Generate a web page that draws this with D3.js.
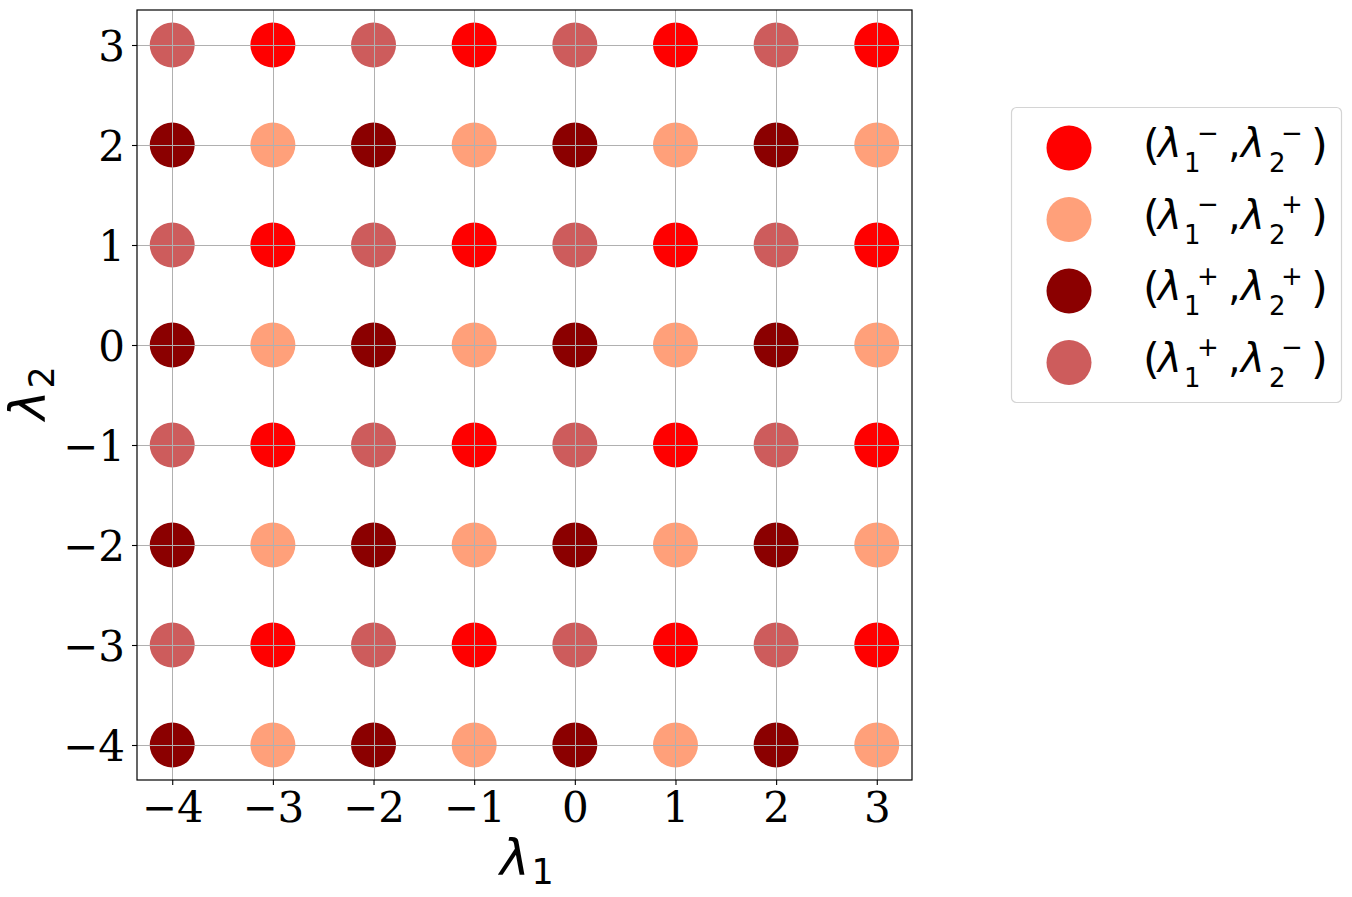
<!DOCTYPE html>
<html>
<head>
<meta charset="utf-8">
<script src="https://cdn.jsdelivr.net/npm/d3@7"></script>
<style>
  body { margin: 0; background: #fff; }
  svg { display: block; }
</style>
</head>
<body>
<script>
// lattice values on each axis
const lambda1Values = [-4, -3, -2, -1, 0, 1, 2, 3];
const lambda2Values = [-4, -3, -2, -1, 0, 1, 2, 3];
// sign class, per column / per row
const lambda1Sign = ['+', '−', '+', '−', '+', '−', '+', '−'];
const lambda2Sign = ['+', '−', '+', '−', '+', '−', '+', '−'];

const xTicks = [-4, -3, -2, -1, 0, 1, 2, 3];
const yTicks = [-4, -3, -2, -1, 0, 1, 2, 3];

// legend entries in order
const groups = [
  { s1: '−', s2: '−', color: '#ff0000' },
  { s1: '−', s2: '+', color: '#ffa07a' },
  { s1: '+', s2: '+', color: '#8b0000' },
  { s1: '+', s2: '−', color: '#cd5c5c' }
];

const W = 1352, H = 897;
const plot = { left: 137, right: 912, top: 10, bottom: 780 };

const svg = d3.select('body').append('svg')
  .attr('width', W)
  .attr('height', H);

const x = d3.scaleLinear().domain([-4.35, 3.35]).range([plot.left, plot.right]);
const y = d3.scaleLinear().domain([-4.35, 3.35]).range([plot.bottom, plot.top]);

// build points from the lattice
let points = [];
lambda1Values.forEach((a, i) => {
  lambda2Values.forEach((b, j) => {
    let g = groups.find(g => g.s1 == lambda1Sign[i] && g.s2 == lambda2Sign[j]);
    points.push({ l1: a, l2: b, color: g.color });
  });
});

svg.append('g').selectAll('circle')
  .data(points).enter()
  .append('circle')
  .attr('cx', d => x(d.l1))
  .attr('cy', d => y(d.l2))
  .attr('r', 22.5)
  .style('fill', d => d.color);

// grid on top of the markers (like the reference)
const grid = svg.append('g').attr('stroke', '#b0b0b0').attr('stroke-width', 1);
grid.selectAll('.vx').data(xTicks).enter().append('line')
  .attr('x1', d => Math.round(x(d)) + 0.5).attr('x2', d => Math.round(x(d)) + 0.5)
  .attr('y1', plot.top).attr('y2', plot.bottom);
grid.selectAll('.hy').data(yTicks).enter().append('line')
  .attr('y1', d => Math.round(y(d)) + 0.5).attr('y2', d => Math.round(y(d)) + 0.5)
  .attr('x1', plot.left).attr('x2', plot.right);

// axes
const tickFont = 'DejaVu Serif';
const xAxis = svg.append('g')
  .attr('transform', `translate(0,${plot.bottom})`)
  .call(d3.axisBottom(x).tickValues(xTicks).tickSize(5).tickPadding(7));
const yAxis = svg.append('g')
  .attr('transform', `translate(${plot.left},0)`)
  .call(d3.axisLeft(y).tickValues(yTicks).tickSize(5).tickPadding(7));

[xAxis, yAxis].forEach(a => {
  a.select('.domain').remove();
  a.selectAll('line').attr('stroke', '#000').attr('stroke-width', 1.1);
  a.selectAll('text')
    .style('font-family', tickFont)
    .style('font-size', '42px')
    .attr('fill', '#000');
});
yAxis.selectAll('text').attr('dy', '0.36em');

// frame
svg.append('rect')
  .attr('x', plot.left).attr('y', plot.top)
  .attr('width', plot.right - plot.left)
  .attr('height', plot.bottom - plot.top)
  .attr('fill', 'none')
  .attr('stroke', '#000')
  .attr('stroke-width', 1.2);

// axis labels: λ with subscript
function lambdaLabel(parent, sub, fs) {
  let t = parent.append('text')
    .style('font-family', 'DejaVu Sans')
    .style('font-size', fs + 'px')
    .attr('fill', '#000');
  t.append('tspan').style('font-style', 'italic').text('λ');
  t.append('tspan').attr('dx', fs * 0.04).attr('dy', fs * 0.17)
    .style('font-size', (fs * 0.7) + 'px').text(sub);
  return t;
}

const axisFs = 50;
lambdaLabel(svg.append('g').attr('transform', `translate(500,875)`), '1', axisFs);
lambdaLabel(svg.append('g').attr('transform', `translate(45,420) rotate(-90)`), '2', axisFs);

// legend
const lg = svg.append('g');
lg.append('rect')
  .attr('x', 1011.5).attr('y', 107.5)
  .attr('width', 330).attr('height', 295)
  .attr('rx', 5).attr('ry', 5)
  .attr('fill', '#fff')
  .attr('stroke', '#d4d4d4')
  .attr('stroke-width', 1.2);

const legFs = 40;    // λ and comma
const parenFs = 43;  // delimiters come out a bit taller
const scriptFs = 26;
// x offsets of each piece from the label origin (mathtext-like layout)
const pieceX = { open: 0, lam1: 15, sub1: 41, sup1: 54, comma: 85, lam2: 98, sub2: 126, sup2: 138, close: 168 };

groups.forEach((g, i) => {
  let cy = 148 + i * 71.5;
  lg.append('circle')
    .attr('cx', 1069).attr('cy', cy).attr('r', 22.5)
    .style('fill', g.color);

  let row = lg.append('g')
    .attr('transform', `translate(1143,${cy + 9})`)
    .style('font-family', 'DejaVu Sans')
    .attr('fill', '#000');

  let add = (txt, px, dy, size, italic) => row.append('text')
    .attr('x', px).attr('y', dy)
    .style('font-size', size + 'px')
    .style('font-style', italic ? 'italic' : 'normal')
    .text(txt);

  add('(', pieceX.open, 2.5, parenFs, false);
  add('λ', pieceX.lam1, 0, legFs, true);
  add('1', pieceX.sub1, 15, scriptFs, false);
  add(g.s1, pieceX.sup1, -15.3, scriptFs, false);
  add(',', pieceX.comma, 0, legFs, false);
  add('λ', pieceX.lam2, 0, legFs, true);
  add('2', pieceX.sub2, 15, scriptFs, false);
  add(g.s2, pieceX.sup2, -15.3, scriptFs, false);
  add(')', pieceX.close, 2.5, parenFs, false);
});
</script>
</body>
</html>
